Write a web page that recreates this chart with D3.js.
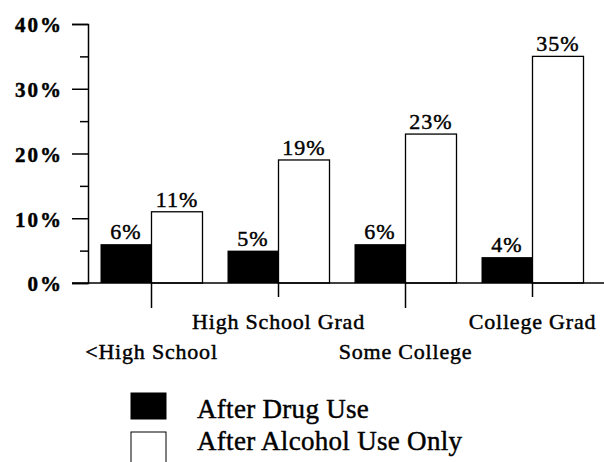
<!DOCTYPE html>
<html>
<head>
<meta charset="utf-8">
<script src="https://cdn.jsdelivr.net/npm/d3@7"></script>
<style>
  body { margin: 0; background: #fff; }
  text { font-family: "Liberation Serif", "Times New Roman", serif; fill: #000; stroke: #000; stroke-width: 0.45px; }
</style>
</head>
<body>
<svg width="604" height="462"></svg>
<script>
// data
var categories = ["<High School", "High School Grad", "Some College", "College Grad"];
var drugUse = [6, 5, 6, 4];
var alcoholOnly = [11, 19, 23, 35];
var seriesNames = ["After Drug Use", "After Alcohol Use Only"];
var yTicks = [0, 10, 20, 30, 40];
var yMinorTicks = [5, 15, 25, 35];

var svg = d3.select("svg");

// scales
var x = d3.scaleBand()
  .domain(categories)
  .range([88, 596]);

var y = d3.scaleLinear()
  .domain([0, 40])
  .range([283, 24]);

var barW = 51;

// y axis: major ticks via d3.axisLeft, minor ticks separately
var yAxis = svg.append("g")
  .attr("transform", "translate(88,0)")
  .call(d3.axisLeft(y).tickValues(yTicks).tickSize(16).tickFormat(function(d) { return d + "%"; }));

yAxis.select(".domain").attr("stroke", "#000").attr("stroke-width", 1.5);
yAxis.selectAll(".tick line").attr("stroke", "#000").attr("stroke-width", 1.5);
yAxis.selectAll(".tick text")
  .attr("x", -25)
  .attr("dy", "0.38em")
  .attr("font-family", "Liberation Serif")
  .attr("font-size", 21)
  .attr("font-weight", "bold")
  .attr("letter-spacing", 2)
  .attr("fill", "#000");

svg.append("g")
  .attr("transform", "translate(88,0)")
  .call(d3.axisLeft(y).tickValues(yMinorTicks).tickSize(8).tickFormat(""))
  .call(function(g) { g.select(".domain").remove(); })
  .selectAll(".tick line").attr("stroke", "#000").attr("stroke-width", 1.5);

// bars
var groups = svg.append("g")
  .selectAll("g")
  .data(categories)
  .enter()
  .append("g");

groups.append("rect")
  .attr("x", function(d) { return x(d) + x.bandwidth() / 2 - barW; })
  .attr("y", function(d, i) { return y(drugUse[i]); })
  .attr("width", barW)
  .attr("height", function(d, i) { return y(0) - y(drugUse[i]); })
  .attr("fill", "#000");

groups.append("rect")
  .attr("x", function(d) { return x(d) + x.bandwidth() / 2; })
  .attr("y", function(d, i) { return y(alcoholOnly[i]); })
  .attr("width", barW)
  .attr("height", function(d, i) { return y(0) - y(alcoholOnly[i]); })
  .attr("fill", "#fff")
  .attr("stroke", "#000").attr("stroke-width", 1.3);

// value labels
groups.append("text")
  .attr("x", function(d) { return x(d) + x.bandwidth() / 2 - barW / 2; })
  .attr("y", function(d, i) { return y(drugUse[i]) - 5; })
  .attr("text-anchor", "middle")
  .attr("font-size", 22)
  .attr("letter-spacing", 1)
  .text(function(d, i) { return drugUse[i] + "%"; });

groups.append("text")
  .attr("x", function(d) { return x(d) + x.bandwidth() / 2 + barW / 2; })
  .attr("y", function(d, i) { return y(alcoholOnly[i]) - 5; })
  .attr("text-anchor", "middle")
  .attr("font-size", 22)
  .attr("letter-spacing", 1)
  .text(function(d, i) { return alcoholOnly[i] + "%"; });

// x axis
svg.append("line")
  .attr("x1", 72).attr("x2", 604)
  .attr("y1", y(0)).attr("y2", y(0))
  .attr("stroke", "#000").attr("stroke-width", 1.5);

groups.append("line")
  .attr("x1", function(d) { return x(d) + x.bandwidth() / 2; })
  .attr("x2", function(d) { return x(d) + x.bandwidth() / 2; })
  .attr("y1", y(0))
  .attr("y2", function(d, i) { return i % 2 == 0 ? 308 : 297; })
  .attr("stroke", "#000").attr("stroke-width", 1.5);

groups.append("text")
  .attr("x", function(d) { return x(d) + x.bandwidth() / 2; })
  .attr("y", function(d, i) { return i % 2 == 0 ? 359 : 329; })
  .attr("text-anchor", "middle")
  .attr("font-size", 22)
  .attr("letter-spacing", 0.8)
  .text(function(d) { return d; });

// legend
var legend = svg.append("g")
  .selectAll("g")
  .data(seriesNames)
  .enter()
  .append("g")
    .attr("transform", function(d, i) { return "translate(131," + (393 + i * 39) + ")"; });

legend.append("rect")
  .attr("width", 35)
  .attr("height", function(d, i) { return i == 0 ? 26 : 34; })
  .attr("fill", function(d, i) { return i == 0 ? "#000" : "#fff"; })
  .attr("stroke", "#000").attr("stroke-width", 1);

legend.append("text")
  .attr("x", 66)
  .attr("y", function(d, i) { return i == 0 ? 25 : 18; })
  .attr("font-size", 27)
  .attr("letter-spacing", 0.3)
  .text(function(d) { return d; });
</script>
</body>
</html>
